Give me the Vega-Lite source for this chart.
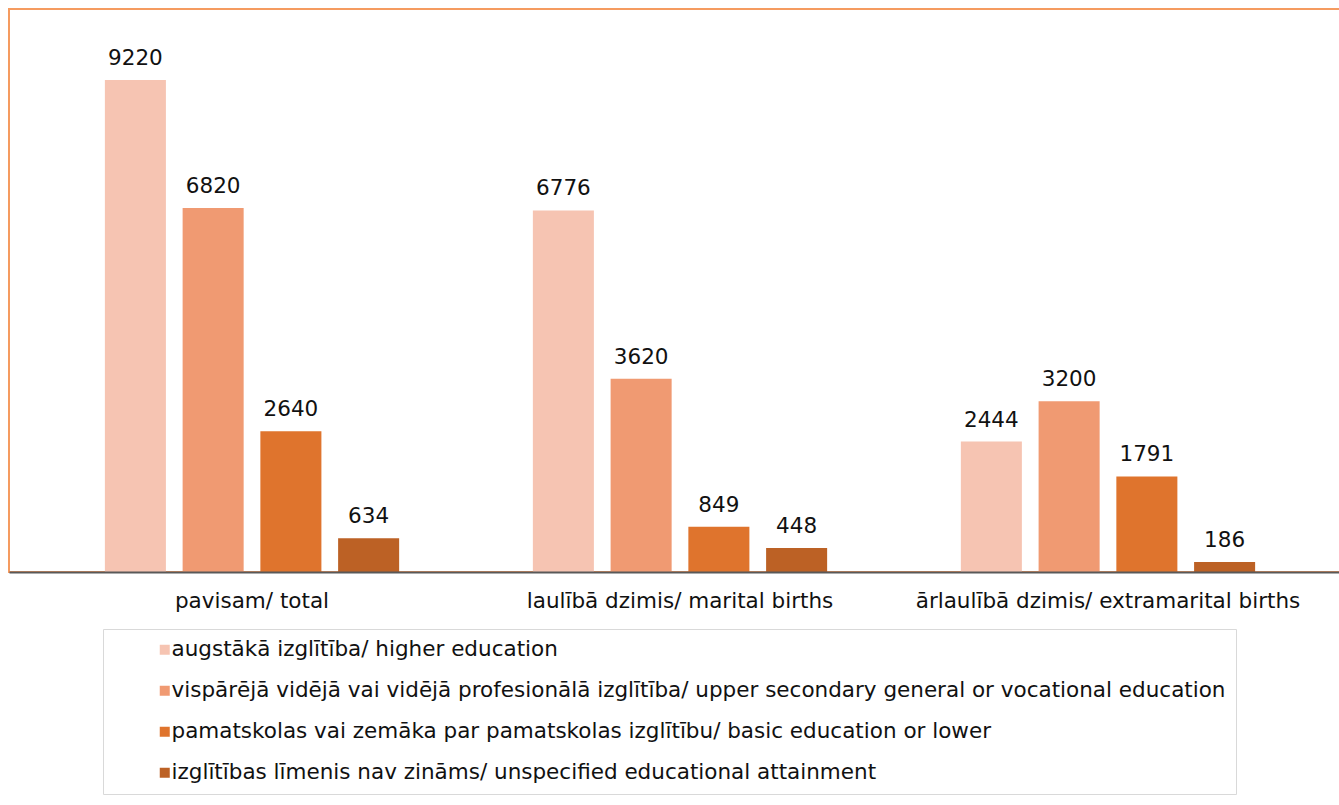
{
  "$schema": "https://vega.github.io/schema/vega-lite/v6.json",
  "autosize": {"type": "none"},
  "padding": {"left": 9, "top": 9, "right": 0, "bottom": 233},
  "width": 1342,
  "height": 563,
  "background": "white",
  "config": {
    "font": "DejaVu Sans",
    "view": {"stroke": "#F59B60", "strokeWidth": 2}
  },
  "data": {
    "values": [
      {"group": "pavisam/ total", "edu": "augstākā izglītība/ higher education", "value": 9220},
      {"group": "pavisam/ total", "edu": "vispārējā vidējā vai vidējā profesionālā izglītība/ upper secondary general or vocational education", "value": 6820},
      {"group": "pavisam/ total", "edu": "pamatskolas vai zemāka par pamatskolas izglītību/ basic education or lower", "value": 2640},
      {"group": "pavisam/ total", "edu": "izglītības līmenis nav zināms/ unspecified educational attainment", "value": 634},
      {"group": "laulībā dzimis/ marital births", "edu": "augstākā izglītība/ higher education", "value": 6776},
      {"group": "laulībā dzimis/ marital births", "edu": "vispārējā vidējā vai vidējā profesionālā izglītība/ upper secondary general or vocational education", "value": 3620},
      {"group": "laulībā dzimis/ marital births", "edu": "pamatskolas vai zemāka par pamatskolas izglītību/ basic education or lower", "value": 849},
      {"group": "laulībā dzimis/ marital births", "edu": "izglītības līmenis nav zināms/ unspecified educational attainment", "value": 448},
      {"group": "ārlaulībā dzimis/ extramarital births", "edu": "augstākā izglītība/ higher education", "value": 2444},
      {"group": "ārlaulībā dzimis/ extramarital births", "edu": "vispārējā vidējā vai vidējā profesionālā izglītība/ upper secondary general or vocational education", "value": 3200},
      {"group": "ārlaulībā dzimis/ extramarital births", "edu": "pamatskolas vai zemāka par pamatskolas izglītību/ basic education or lower", "value": 1791},
      {"group": "ārlaulībā dzimis/ extramarital births", "edu": "izglītības līmenis nav zināms/ unspecified educational attainment", "value": 186}
    ]
  },
  "encoding": {
    "x": {
      "field": "group", "type": "nominal", "sort": null, "title": null,
      "scale": {"paddingInner": 0, "paddingOuter": 0.0678},
      "axis": {"labelAngle": 0, "labelFontSize": 21.5, "labelColor": "#111111", "labelPadding": 18, "labelLimit": 500, "ticks": false, "domainColor": "#595959", "domainWidth": 2, "zindex": 1}
    },
    "xOffset": {
      "field": "edu", "type": "nominal", "sort": null,
      "scale": {"paddingInner": 0.215, "paddingOuter": 0.86}
    },
    "y": {
      "field": "value", "type": "quantitative",
      "scale": {"domain": [0, 10551], "nice": false, "zero": true},
      "axis": null
    }
  },
  "layer": [
    {
      "mark": {"type": "bar"},
      "encoding": {
        "color": {
          "field": "edu", "type": "nominal", "sort": null,
          "scale": {"range": ["#F6C4B2", "#F09A72", "#DF742D", "#BC6125"]},
          "legend": {
            "title": null, "orient": "none", "legendX": 94, "legendY": 620,
            "direction": "vertical",
            "symbolType": "square", "symbolSize": 100, "symbolStrokeWidth": 0,
            "symbolOffset": 41, "labelOffset": -4,
            "labelFontSize": 21.5, "labelColor": "#111111", "labelLimit": 1300,
            "rowPadding": 18, "padding": 10,
            "strokeColor": "#D9D9D9", "fillColor": "white"
          }
        }
      }
    },
    {
      "mark": {"type": "text", "baseline": "bottom", "dy": -10, "fontSize": 21.5, "color": "#111111"},
      "encoding": {"text": {"field": "value", "type": "quantitative"}}
    }
  ]
}
